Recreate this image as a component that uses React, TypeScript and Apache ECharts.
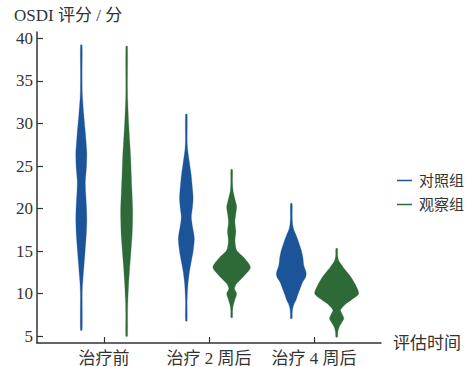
import React, { useEffect, useRef } from "react";
import * as echarts from "echarts";

const categories = ["治疗前", "治疗 2 周后", "治疗 4 周后"];
const groups = ["对照组", "观察组"];
const yTicks = [5, 10, 15, 20, 25, 30, 35, 40];

// Violin outlines: score levels (top to bottom) and the relative density (half width) at each level
const ctrlPreY = [39.2, 36, 34, 33, 31, 29, 27.5, 26.5, 25, 23.5, 23, 22, 21, 19.5, 18.5, 17, 15, 13.5, 12, 11, 10, 5.7];
const ctrlPreD = [0.8, 0.8, 0.9, 1.2, 2.5, 4, 5, 5.5, 5.2, 4.2, 4, 4.3, 4.8, 5.4, 5.5, 5, 3.8, 2.8, 1.8, 1.2, 0.9, 0.8];
const obsPreY = [39.06, 34, 32.5, 30, 28, 26, 24, 22, 20, 19, 17, 15, 13, 11.2, 9.2, 7.5, 5.0];
const obsPreD = [0.8, 0.8, 1.1, 2, 3, 4, 4.6, 5.3, 6, 6, 5.5, 4.3, 3, 2, 1.2, 0.9, 0.8];

const ctrlW2Y = [31.07, 28, 27, 25.5, 24, 22.5, 21.2, 20, 19, 18, 17, 16.3, 15, 13.5, 12.5, 11.2, 10, 9, 6.8];
const ctrlW2D = [0.8, 0.9, 1.3, 3, 4.8, 6, 6.8, 6, 5, 6, 7.5, 8, 6.8, 4.5, 3, 1.7, 1.1, 0.8, 0.8];
const obsW2Y = [24.6, 23, 22, 21, 20.2, 19.3, 18.4, 17.3, 16.2, 15.1, 14.3, 13.1, 12, 11.2, 10.6, 10.0, 9.4, 8.6, 8, 7.2];
const obsW2D = [0.8, 0.9, 1.5, 3.5, 5, 4, 3.2, 4.2, 3.3, 5, 11.7, 18.8, 11.7, 5, 2.8, 5, 3.5, 1.5, 0.9, 0.8];

const ctrlW4Y = [20.6, 19, 18.2, 17.5, 16.9, 16, 15.1, 14.3, 13.3, 12.5, 12, 11.3, 10.5, 9.8, 9.2, 8.8, 8.2, 7.6, 7.08];
const ctrlW4D = [0.8, 0.9, 1.3, 2.5, 4.7, 7.5, 10, 11.5, 12.5, 14.8, 14.5, 11, 8.5, 6.2, 4.5, 2.7, 1.3, 0.9, 0.8];
const obsW4Y = [15.3, 14.5, 13.9, 13.5, 12.8, 12.0, 11, 10.0, 9.3, 8.84, 8.3, 8.05, 7.6, 7.08, 6.6, 6.1, 5.5, 4.9];
const obsW4D = [0.8, 1, 2, 4.2, 8.5, 14, 19, 22, 15, 9.5, 5, 3.7, 5.5, 7.2, 5, 2.5, 1.2, 0.8];

const profiles = [
  [
    [ctrlPreY, ctrlPreD],
    [ctrlW2Y, ctrlW2D],
    [ctrlW4Y, ctrlW4D],
  ],
  [
    [obsPreY, obsPreD],
    [obsW2Y, obsW2D],
    [obsW4Y, obsW4D],
  ],
];

const COLORS = ["#1b5499", "#2d6a38"];
const OFFSETS = [-0.216, 0.216];
const FONT = "'Liberation Serif', 'Noto Sans CJK SC', serif";

function makeRender(g: number) {
  return (params: any, api: any) => {
    const ci = api.value(0);
    const [ys, ds] = profiles[g][ci];
    const xv = ci + OFFSETS[g];
    const cx = api.coord([xv, ys[0]])[0];
    const left: number[][] = [];
    const right: number[][] = [];
    for (let k = 0; k < ys.length; k++) {
      const py = api.coord([xv, ys[k]])[1];
      left.push([cx - ds[k], py]);
      right.push([cx + ds[k], py]);
    }
    const points = left.concat(right.reverse());
    return {
      type: "polygon",
      shape: { points, smooth: 0.25 },
      style: { fill: COLORS[g], stroke: COLORS[g], lineWidth: 0.3 },
    };
  };
}

export default function App() {
  const ref = useRef<HTMLDivElement>(null);
  useEffect(() => {
    if (!ref.current) return;
    const chart = echarts.init(ref.current, null, { renderer: "svg" });
    chart.setOption({
      animation: false,
      backgroundColor: "#ffffff",
      textStyle: { fontFamily: FONT },
      grid: { left: 37, right: 88, top: 32, bottom: 24, containLabel: false, outerBoundsMode: "none" },
      legend: {
        orient: "vertical",
        left: 392,
        top: 168,
        itemWidth: 15,
        itemHeight: 1.5,
        itemGap: 9,
        icon: "rect",
        data: groups,
        textStyle: { fontSize: 15, color: "#333", fontFamily: FONT, lineHeight: 15, padding: [0, 0, 0, 2] },
      },
      xAxis: {
        type: "value",
        min: -0.638,
        max: 2.638,
        name: "评估时间",
        nameLocation: "end",
        nameGap: 12,
        nameTextStyle: { fontSize: 17, color: "#333", fontFamily: FONT, verticalAlign: "middle", padding: [0, 0, 10, 0] },
        axisLine: { show: true, onZero: false, lineStyle: { color: "#333", width: 1.5 } },
        axisTick: { show: true, inside: true, length: 6, customValues: [0, 1, 2], lineStyle: { color: "#333", width: 1.2 } },
        axisLabel: {
          customValues: [0, 1, 2],
          formatter: (v: number) => categories[Math.round(v)] ?? "",
          fontSize: 17,
          color: "#333",
          fontFamily: FONT,
          margin: 7,
        },
        splitLine: { show: false },
      },
      yAxis: {
        type: "value",
        min: 4.21,
        max: 40.74,
        name: "OSDI 评分 / 分",
        nameLocation: "end",
        nameGap: 8,
        nameTextStyle: { fontSize: 17, color: "#333", fontFamily: FONT, align: "left", verticalAlign: "bottom", padding: [0, 0, 0, -23] },
        axisLine: { show: true, onZero: false, lineStyle: { color: "#333", width: 1.5 } },
        axisTick: { show: true, inside: true, length: 6, customValues: yTicks, lineStyle: { color: "#333", width: 1.2 } },
        axisLabel: {
          customValues: yTicks,
          fontSize: 17,
          color: "#333",
          fontFamily: FONT,
          margin: 4,
        },
        splitLine: { show: false },
      },
      series: groups.map((name, g) => ({
        type: "custom",
        name,
        itemStyle: { color: COLORS[g] },
        renderItem: makeRender(g),
        encode: { x: 0, y: 1 },
        data: categories.map((_, ci) => [ci, profiles[g][ci][0][0]]),
        clip: false,
      })),
    });
    return () => chart.dispose();
  }, []);
  return <div ref={ref} style={{ width: 469, height: 367, position: "absolute", left: 0, top: 0 }} />;
}
